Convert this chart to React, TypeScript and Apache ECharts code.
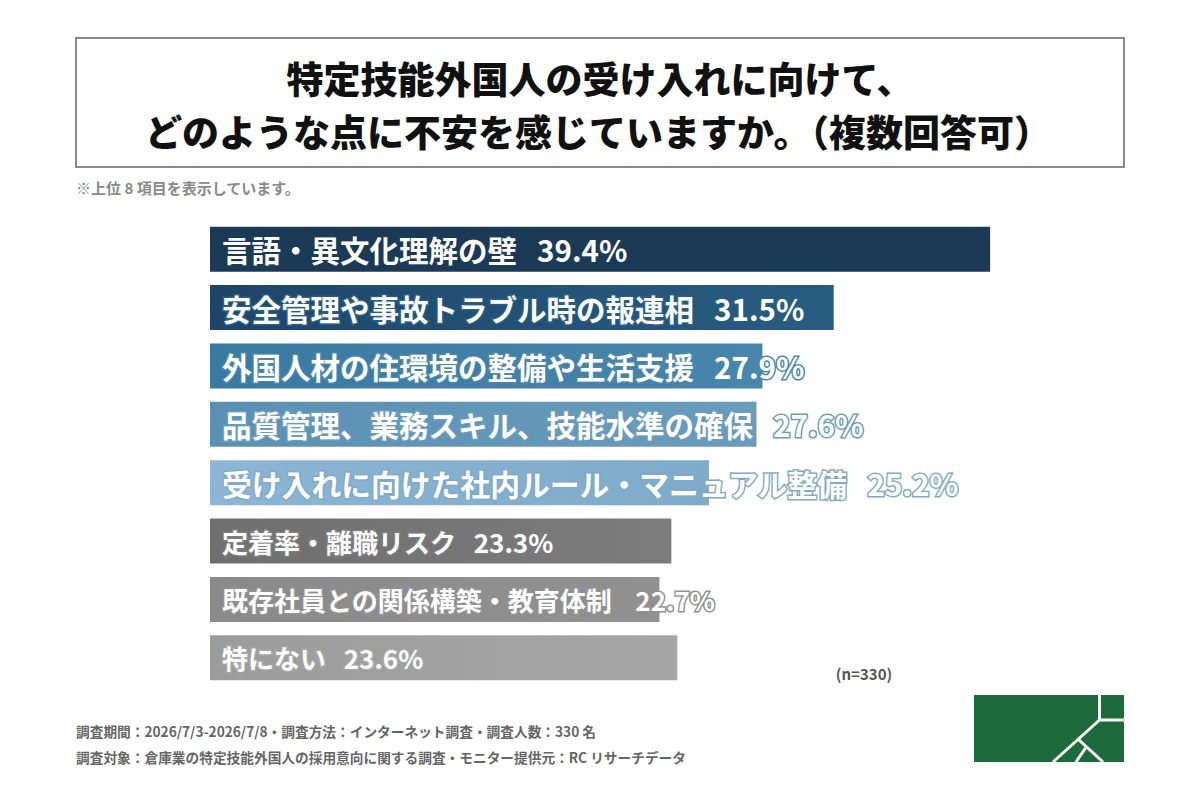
import React, { useEffect, useRef } from "react";
import * as echarts from "echarts";

const categories = [
  "言語・異文化理解の壁",
  "安全管理や事故トラブル時の報連相",
  "外国人材の住環境の整備や生活支援",
  "品質管理、業務スキル、技能水準の確保",
  "受け入れに向けた社内ルール・マニュアル整備",
  "定着率・離職リスク",
  "既存社員との関係構築・教育体制",
  "特にない",
];
const values = [39.4, 31.5, 27.9, 27.6, 25.2, 23.3, 22.7, 23.6];
const gaps = ["   ", "   ", "   ", "   ", "   ", "   ", "    ", "   "];
const labelSizes = [29.5, 29.5, 29.5, 29.5, 29.8, 26, 26, 26];
const colorsLeft = ["#1b3a56", "#1e4568", "#3a79a0", "#5a90b3", "#8bb6d4", "#6f6f6f", "#8a8a8a", "#9c9c9c"];
const colorsRight = ["#1b3a56", "#285d81", "#4986ac", "#6a9cbc", "#7fabca", "#7c7c7c", "#919191", "#a6a6a6"];

const titleLines = ["特定技能外国人の受け入れに向けて、", "どのような点に不安を感じていますか。（複数回答可）"];
const noteText = "※上位 8 項目を表示しています。";
const sampleText = "(n=330)";
const footerLines = [
  "調査期間：2026/7/3-2026/7/8・調査方法：インターネット調査・調査人数：330 名",
  "調査対象：倉庫業の特定技能外国人の採用意向に関する調査・モニター提供元：RC リサーチデータ",
];

const FONT = '"Noto Sans CJK JP", "Noto Sans", sans-serif';

export default function App() {
  const ref = useRef<HTMLDivElement>(null);
  useEffect(() => {
    document.body.style.margin = "0";
    if (!ref.current) return;
    const chart = echarts.init(ref.current, null, { renderer: "svg" });
    const green = "#1d6a3a";
    chart.setOption({
      animation: false,
      backgroundColor: "#ffffff",
      grid: { left: 210, top: 220, width: 792, height: 467, containLabel: false },
      xAxis: { type: "value", min: 0, max: 40, show: false },
      yAxis: { type: "category", data: categories, inverse: true, show: false },
      series: [
        {
          type: "bar",
          barCategoryGap: "23%",
          data: values.map((v, i) => ({
            value: v,
            itemStyle: {
              color: new echarts.graphic.LinearGradient(0, 0, 1, 0, [
                { offset: 0, color: colorsLeft[i] },
                { offset: 1, color: colorsRight[i] },
              ]),
            },
            label: {
              textBorderColor: colorsRight[i],
              fontSize: labelSizes[i],
            },
          })),
          label: {
            show: true,
            position: "insideLeft",
            distance: 12,
            color: "#ffffff",
            fontFamily: FONT,
            fontWeight: "bold",
            fontSize: 29.5,
            textBorderWidth: 3,
            formatter: (p: any) => `${categories[p.dataIndex]}${gaps[p.dataIndex]}${values[p.dataIndex].toFixed(1)}%`,
          },
        },
      ],
      graphic: [
        {
          type: "rect",
          shape: { x: 76, y: 38, width: 1048, height: 129 },
          style: { fill: "#ffffff", stroke: "#8a8a8a", lineWidth: 2 },
          z: 0,
        },
        {
          type: "text",
          x: 600,
          y: 78,
          style: {
            text: titleLines[0],
            fontFamily: FONT,
            fontWeight: 900,
            fontSize: 37,
            fill: "#111111",
            align: "center",
            verticalAlign: "middle",
          },
        },
        {
          type: "text",
          x: 598,
          y: 131,
          style: {
            text: titleLines[1],
            fontFamily: FONT,
            fontWeight: 900,
            fontSize: 37,
            fill: "#111111",
            align: "center",
            verticalAlign: "middle",
          },
        },
        {
          type: "text",
          x: 76,
          y: 187,
          style: {
            text: noteText,
            fontFamily: FONT,
            fontWeight: "bold",
            fontSize: 15,
            fill: "#8a8a8a",
            align: "left",
            verticalAlign: "middle",
          },
        },
        {
          type: "text",
          x: 864,
          y: 673,
          style: {
            text: sampleText,
            fontFamily: FONT,
            fontWeight: "bold",
            fontSize: 15,
            fill: "#555555",
            align: "center",
            verticalAlign: "middle",
          },
        },
        {
          type: "text",
          x: 76,
          y: 731,
          style: {
            text: footerLines[0],
            fontFamily: FONT,
            fontWeight: "bold",
            fontSize: 13.7,
            fill: "#666666",
            align: "left",
            verticalAlign: "middle",
          },
        },
        {
          type: "text",
          x: 76,
          y: 757,
          style: {
            text: footerLines[1],
            fontFamily: FONT,
            fontWeight: "bold",
            fontSize: 13.7,
            fill: "#666666",
            align: "left",
            verticalAlign: "middle",
          },
        },
        {
          type: "group",
          children: [
            { type: "rect", shape: { x: 974, y: 695, width: 150, height: 67 }, style: { fill: green } },
            { type: "line", shape: { x1: 1099.5, y1: 695, x2: 1099.5, y2: 720 }, style: { stroke: "#fff", lineWidth: 3 } },
            { type: "line", shape: { x1: 1099.5, y1: 720, x2: 1124, y2: 720 }, style: { stroke: "#fff", lineWidth: 3 } },
            { type: "line", shape: { x1: 1099.5, y1: 720, x2: 1053, y2: 762 }, style: { stroke: "#fff", lineWidth: 3 } },
            { type: "line", shape: { x1: 1078.5, y1: 739.5, x2: 1103, y2: 762 }, style: { stroke: "#fff", lineWidth: 3 } },
            { type: "line", shape: { x1: 1085.5, y1: 748, x2: 1076, y2: 762 }, style: { stroke: "#fff", lineWidth: 3 } },
          ],
        },
      ],
    });
    return () => chart.dispose();
  }, []);
  return <div ref={ref} style={{ width: 1200, height: 800 }} />;
}
